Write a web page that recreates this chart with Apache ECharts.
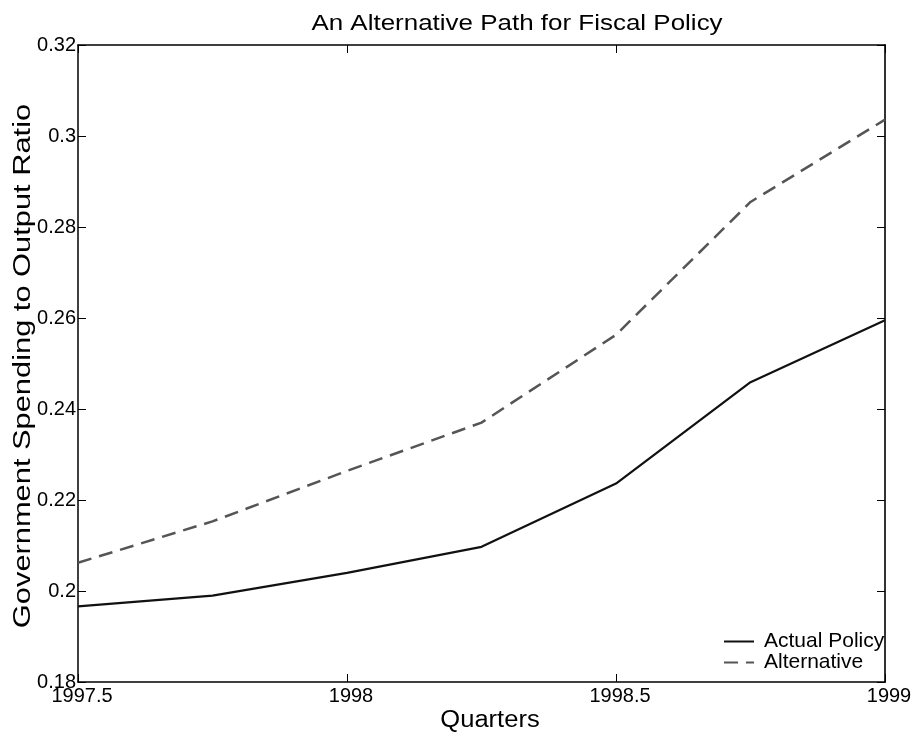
<!DOCTYPE html>
<html>
<head>
<meta charset="utf-8">
<script src="https://cdn.jsdelivr.net/npm/echarts@6/dist/echarts.min.js"></script>
<style>
   html, body { margin: 0; padding: 0; background: #fff; }
   #chart { width: 919px; height: 738px; }
</style>
</head>
<body>
<div id="chart"></div>
<script>
// values
const quarters = [1997.5, 1997.75, 1998, 1998.25, 1998.5, 1998.75, 1999];
const actualPolicy = [0.1966, 0.1990, 0.2040, 0.2097, 0.2236, 0.2459, 0.2595];
const alternative = [0.2062, 0.2153, 0.2264, 0.2370, 0.2563, 0.2855, 0.3036];

const font = '"Liberation Sans", Arial, sans-serif';

function pairs(ys) {
   return quarters.map((q, i) => [q, ys[i]]);
}

const frameAxis = {
   type: 'value',
   axisLine: { show: true, lineStyle: { color: '#000', width: 1.5 } },
   axisTick: { show: true, inside: true, length: 8, lineStyle: { color: '#000', width: 1 } },
   splitLine: { show: false }
};

const chart = echarts.init(document.getElementById('chart'));
chart.setOption({
   animation: false,
   backgroundColor: '#fff',
   grid: { left: 78, right: 34, top: 45, bottom: 56, containLabel: false, outerBoundsMode: 'none' },
   legend: {
      left: 723,
      top: 631,
      padding: 0,
      orient: 'vertical',
      itemWidth: 30,
      itemHeight: 14,
      itemGap: 0,
      itemStyle: { opacity: 0 },
      textStyle: { fontFamily: font, fontSize: 21, lineHeight: 20, color: '#000', padding: [0, 0, 0, 5] },
      data: ['Actual Policy', 'Alternative']
   },
   // title and axis names: the reference text is drawn horizontally stretched
   graphic: [
      {
         type: 'text', x: 517, y: 24, scaleX: 1.18, silent: true,
         style: { text: 'An Alternative Path for Fiscal Policy', font: '22px ' + font, fill: '#000', align: 'center', verticalAlign: 'middle' }
      },
      {
         type: 'text', x: 24, y: 366, rotation: Math.PI / 2, scaleX: 1.34, silent: true,
         style: { text: 'Government Spending to Output Ratio', font: '23px ' + font, fill: '#000', align: 'center', verticalAlign: 'middle' }
      },
      {
         type: 'text', x: 490, y: 721, scaleX: 1.11, silent: true,
         style: { text: 'Quarters', font: '23px ' + font, fill: '#000', align: 'center', verticalAlign: 'middle' }
      }
   ],
   xAxis: [
      Object.assign({}, frameAxis, {
         min: 1997.5, max: 1999, interval: 0.5,
         axisLabel: {
            fontFamily: font, fontSize: 20, color: '#000', margin: 4, padding: [0, 0, 0, 8],
            formatter: v => String(v)
         }
      }),
      Object.assign({}, frameAxis, {
         position: 'top',
         min: 1997.5, max: 1999, interval: 0.5,
         axisLabel: { show: false }
      })
   ],
   yAxis: [
      Object.assign({}, frameAxis, {
         min: 0.18, max: 0.32, interval: 0.02,
         axisLabel: { fontFamily: font, fontSize: 20, color: '#000', margin: 2 }
      }),
      Object.assign({}, frameAxis, {
         position: 'right',
         min: 0.18, max: 0.32, interval: 0.02,
         axisLine: { show: true, lineStyle: { color: '#333', width: 2 } },
         axisLabel: { show: false }
      })
   ],
   series: [
      {
         name: 'Actual Policy',
         type: 'line',
         symbol: 'none',
         data: pairs(actualPolicy),
         lineStyle: { color: '#111', width: 2.2 },
         itemStyle: { color: '#111' }
      },
      {
         name: 'Alternative',
         type: 'line',
         symbol: 'none',
         data: pairs(alternative),
         lineStyle: { color: '#555', width: 2.5, type: [14, 8] },
         itemStyle: { color: '#555' }
      }
   ]
});
</script>
</body>
</html>
